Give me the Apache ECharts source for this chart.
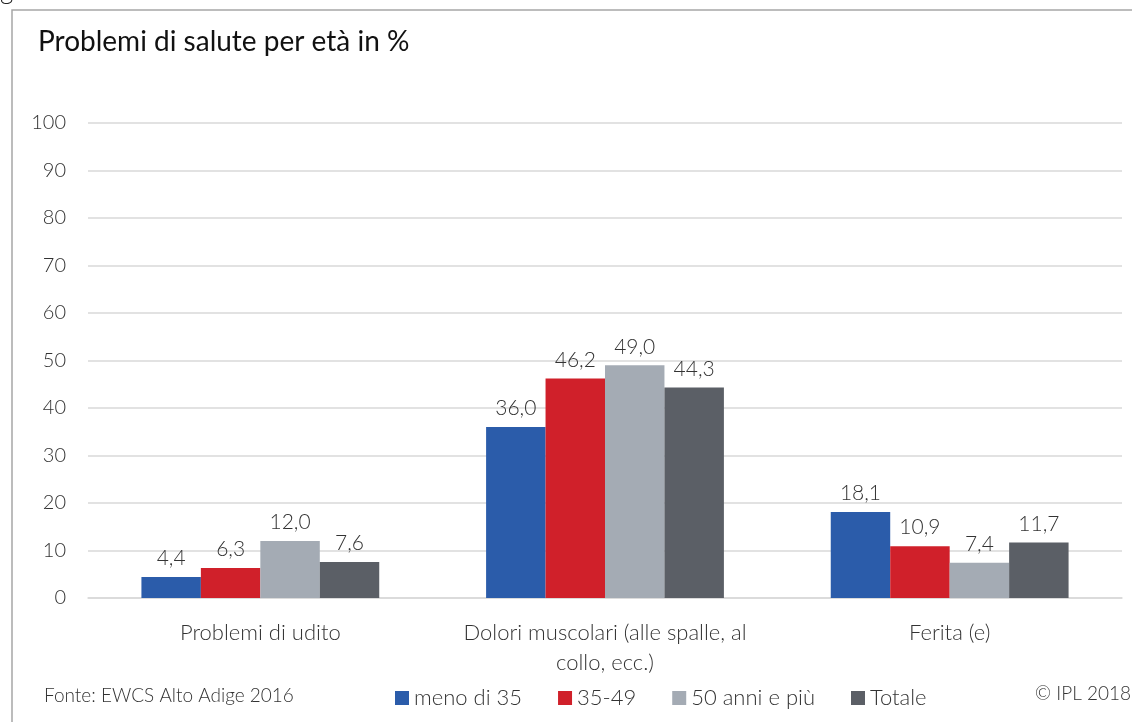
<!DOCTYPE html>
<html>
<head>
<meta charset="utf-8">
<script src="https://cdn.jsdelivr.net/npm/echarts@6/dist/echarts.min.js"></script>
<style>
  html, body { margin: 0; padding: 0; background: #fff; }
  #chart { width: 1132px; height: 722px; }
</style>
</head>
<body>
<div id="chart"></div>
<script>
const categories = ['Problemi di udito', 'Dolori muscolari (alle spalle, al\ncollo, ecc.)', 'Ferita (e)']
const seriesNames = ['meno di 35', '35-49', '50 anni e più', 'Totale']
const menoDi35 = [4.4, 36.0, 18.1]
const da35a49 = [6.3, 46.2, 10.9]
const oltre50 = [12.0, 49.0, 7.4]
const totale = [7.6, 44.3, 11.7]
const colors = ['#2B5CAA', '#D0202A', '#A4ABB4', '#5B5F66']

const font = 'Lato, "Open Sans", sans-serif'
const myChart = echarts.init(document.getElementById('chart'))

const makeSeries = (name, data, color) => ({
  name,
  type: 'bar',
  data,
  color,
  barGap: '0%',
  barCategoryGap: '31%',
  label: {
    show: true,
    position: 'top',
    distance: 8,
    color: '#333',
    fontFamily: font,
    fontSize: 21,
    fontWeight: 300,
    formatter: (p) => p.value.toFixed(1).replace('.', ','),
  },
})

const option = {
  animation: false,
  textStyle: { fontFamily: font },
  grid: { left: 88, right: 10, top: 123, bottom: 124 },
  graphic: [
    { type: 'rect', shape: { x: 12, y: 10, width: 1140, height: 730 }, style: { fill: 'none', stroke: '#a6a6a6', lineWidth: 1.5 } },
    { type: 'text', left: 0, top: -22, style: { text: 'g', font: '300 26px ' + font, fill: '#222' } },
    { type: 'text', left: 38, top: 28, style: { text: 'Problemi di salute per età in %', font: '400 28px ' + font, fill: '#111' } },
    { type: 'text', left: 44, top: 686, style: { text: 'Fonte: EWCS Alto Adige 2016', font: '300 19px ' + font, fill: '#333' } },
    { type: 'text', right: 1, top: 684, style: { text: '© IPL 2018', font: '300 19px ' + font, fill: '#333' } },
  ],
  legend: {
    data: seriesNames,
    left: 390,
    top: 682,
    itemWidth: 14,
    itemHeight: 14,
    itemGap: 36,
    icon: 'rect',
    textStyle: { fontFamily: font, fontSize: 22, fontWeight: 300, color: '#333' },
  },
  xAxis: {
    type: 'category',
    data: categories,
    axisTick: { show: false },
    axisLine: { lineStyle: { color: '#d9d9d9', width: 1.5 } },
    axisLabel: { interval: 0, color: '#333', fontSize: 22, fontWeight: 300, margin: 20, lineHeight: 30 },
  },
  yAxis: {
    type: 'value',
    min: 0,
    max: 100,
    interval: 10,
    axisLabel: { color: '#333', fontSize: 20, fontWeight: 300, margin: 22 },
    splitLine: { lineStyle: { color: '#d9d9d9', width: 1.5 } },
  },
  series: [
    makeSeries(seriesNames[0], menoDi35, colors[0]),
    makeSeries(seriesNames[1], da35a49, colors[1]),
    makeSeries(seriesNames[2], oltre50, colors[2]),
    makeSeries(seriesNames[3], totale, colors[3]),
  ],
}

option && myChart.setOption(option)
</script>
</body>
</html>
